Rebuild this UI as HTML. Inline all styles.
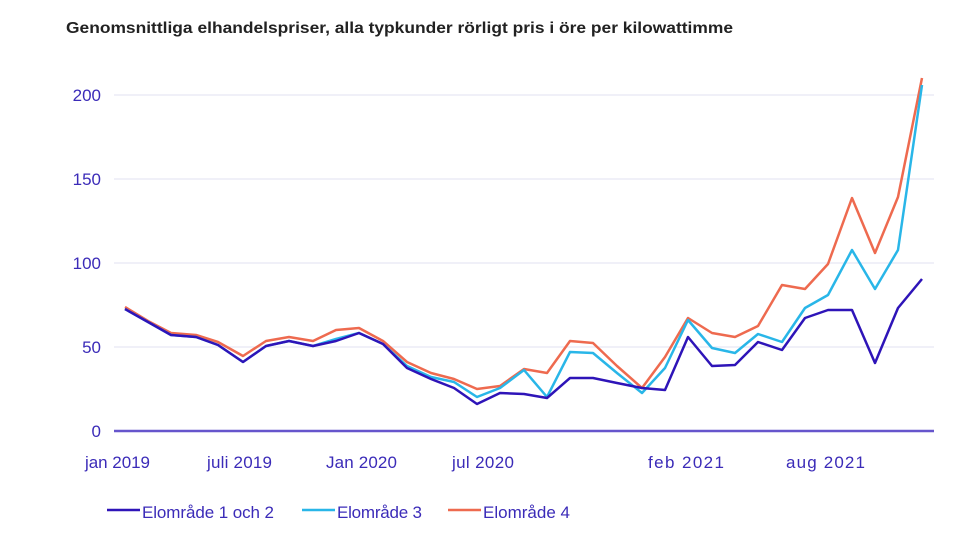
<!DOCTYPE html>
<html><head><meta charset="utf-8"><style>
html,body{margin:0;padding:0;background:#fff;}
svg{display:block;font-family:"Liberation Sans",sans-serif;}
</style></head><body>
<svg width="980" height="544" viewBox="0 0 980 544">
<text x="66" y="33" font-size="15.5" font-weight="bold" fill="#222" textLength="667" lengthAdjust="spacingAndGlyphs">Genomsnittliga elhandelspriser, alla typkunder rörligt pris i öre per kilowattimme</text>
<g stroke="#ebebf5" stroke-width="1.5">
<line x1="114" y1="95" x2="934" y2="95"/><line x1="114" y1="179" x2="934" y2="179"/>
<line x1="114" y1="263" x2="934" y2="263"/><line x1="114" y1="347" x2="934" y2="347"/>
</g>
<line x1="114" y1="431" x2="934" y2="431" stroke="#6655cc" stroke-width="2.5"/>
<g fill="#3b2bb8" font-size="17" text-anchor="end">
<text x="101" y="101">200</text><text x="101" y="185">150</text><text x="101" y="269">100</text>
<text x="101" y="353">50</text><text x="101" y="437">0</text>
</g>
<g fill="#3b2bb8" font-size="17" lengthAdjust="spacingAndGlyphs">
<text x="85" y="468" textLength="65">jan 2019</text>
<text x="207" y="468" textLength="65">juli 2019</text>
<text x="326" y="468" textLength="71">Jan 2020</text>
<text x="452" y="468" textLength="62">jul 2020</text>
<text x="648" y="468" textLength="76">feb 2021</text>
<text x="786" y="468" textLength="79">aug 2021</text>
<text x="142" y="518" textLength="132">Elområde 1 och 2</text>
<text x="337" y="518" textLength="85">Elområde 3</text>
<text x="483" y="518" textLength="87">Elområde 4</text>
</g>
<line x1="107" y1="510" x2="140" y2="510" stroke="#2e14b8" stroke-width="2.5"/>
<line x1="302" y1="510" x2="335" y2="510" stroke="#29b6e8" stroke-width="2.5"/>
<line x1="448" y1="510" x2="481" y2="510" stroke="#ee6a4f" stroke-width="2.5"/>
<g fill="none" stroke-width="2.5" stroke-linejoin="round">
<polyline stroke="#ee6a4f" points="125,307 148,321 171,333 196,335 218,342 243,356 266,341 289,337 313,341 336,330 359,328 383,341 407,362 431,373 454,379 477,389 500,386 524,369 547,373 570,341 593,343 617,366 642,388 665,357 688,318 712,333 735,337 758,326 782,285 805,289 828,264 852,198 875,253 898,197 922,78"/>
<polyline stroke="#29b6e8" points="125,309 148,322 171,335 196,337 218,345 243,362 266,346 289,341 313,346 336,339 359,333 383,344 407,366 431,377 454,382 477,397 500,388 524,370 547,397 570,352 593,353 617,373 642,393 665,368 688,320 712,348 735,353 758,334 782,342 805,308 828,295 852,250 875,289 898,250 922,85"/>
<polyline stroke="#2e14b8" points="125,309 148,322 171,335 196,337 218,345 243,362 266,346 289,341 313,346 336,341 359,333 383,344 407,368 431,379 454,388 477,404 500,393 524,394 547,398 570,378 593,378 617,383 642,388 665,390 688,337 712,366 735,365 758,342 782,350 805,318 828,310 852,310 875,363 898,308 922,279"/>
</g>
</svg>
</body></html>
